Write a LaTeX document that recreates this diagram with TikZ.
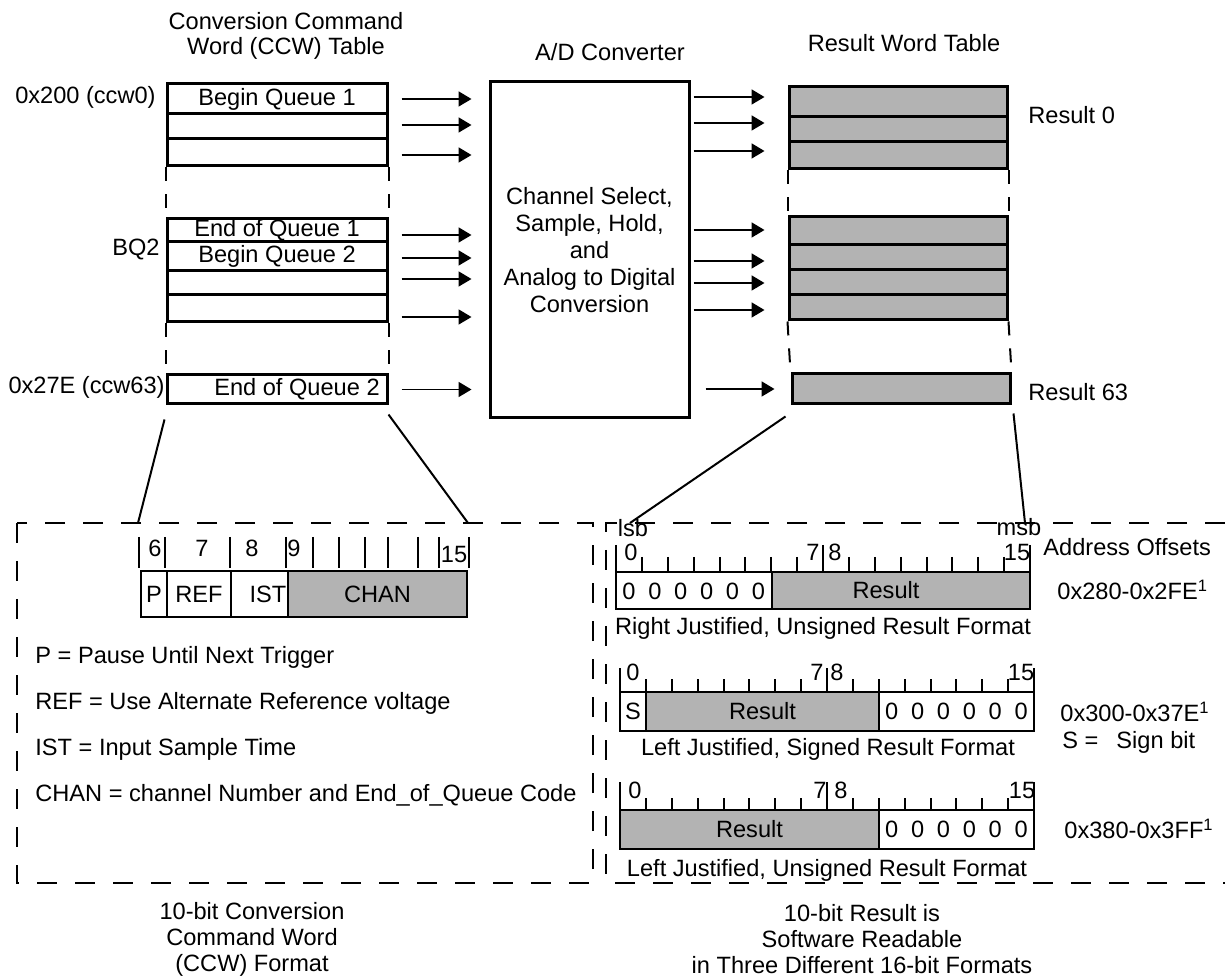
\documentclass[tikz,border=0pt]{standalone}
\usepackage{fontspec}
\setmainfont{Liberation Sans}
\usetikzlibrary{positioning}
\usetikzlibrary{calc}
\usetikzlibrary{arrows.meta}
\definecolor{cellgray}{RGB}{179,179,179}

\tikzset{
  wordrow/.style={draw, line width=1.5pt, minimum width=110pt, inner sep=0pt},
  resrow/.style={wordrow, fill=cellgray, minimum width=109pt},
  feed/.style={line width=0.9pt, -{Triangle[length=6.5pt,width=7.5pt]}},
  gap/.style={line width=1pt, dash pattern=on 7pt off 6.5pt},
  frame/.style={line width=1.2pt, dash pattern=on 10pt off 9pt},
  field/.style={draw, line width=1pt, inner sep=0pt, outer sep=0pt},
  txt/.style={inner sep=0pt},
  tick/.style={line width=1pt},
}

\begin{document}
\begin{tikzpicture}[x=0.5pt, y=-0.5pt, font=\fontsize{11.8}{12.8}\selectfont]
    \useasboundingbox (0,0) rectangle (1225,977);

    % titles
    \node[txt, align=center] (ccwtitle) at (286,36) {Conversion Command\\Word (CCW) Table};
    \node[txt] (adctitle) at (610,52) {A/D Converter};
    \node[txt] (restitle) at (904,43) {Result Word Table};

    % converter
    \node[draw, line width=1.5pt, minimum width=99.5pt, minimum height=168pt, align=center,
          font=\fontsize{11.8}{13.4}\selectfont] (adc) at (589.5,250)
          {Channel Select,\\Sample, Hold,\\and\\Analog to Digital\\Conversion};

    % CCW table
    \foreach \n/\y/\h/\lbl in {c1/99/15pt/Begin Queue 1, c2/126.5/12.5pt/, c3/152.5/13.5pt/,
                               c4/230.5/11.5pt/End of Queue 1, c5/256.5/14.5pt/Begin Queue 2,
                               c6/283/12pt/, c7/308.5/13.5pt/, c8/389.5/14.5pt/\hspace*{20pt}End of Queue 2}
        \node[wordrow, minimum height=\h] (\n) at (277,\y) {\lbl};
    \draw[gap] (c3.south west) -- (c4.north west);
    \draw[gap] (c3.south east) -- (c4.north east);
    \draw[gap] (c7.south west) -- (c8.north west);
    \draw[gap] (c7.south east) -- (c8.north east);

    \node[txt, anchor=east] (ccw0) at (156,97) {0x200 (ccw0)};
    \node[txt, anchor=east] (bq2) at (160,249) {BQ2};
    \node[txt, anchor=east] (ccw63) at (165,387) {0x27E (ccw63)};

    \foreach \n/\dy in {c1/0, c2/-1.5, c3/2.5, c4/4.5, c5/1.5, c6/-4, c7/8.5, c8/0}
        \draw[feed] ($(\n.east)+(13,\dy)$) -- ($(\n.east -| adc.west)+(-17,\dy)$);

    % result table
    \foreach \n/\y/\h in {r1/102/15pt, r2/129.5/12.5pt, r3/155.5/13.5pt, r4/231/14pt,
                          r5/257.5/12.5pt, r6/282.5/12.5pt, r7/307.5/12.5pt}
        \node[resrow, minimum height=\h] (\n) at (898,\y) {};
    \node[resrow, minimum height=15pt] (r8) at (901,389) {};
    \draw[gap] (r3.south west) -- (r4.north west);
    \draw[gap] (r3.south east) -- (r4.north east);
    \draw[gap] (r7.south west) -- (r8.north west);
    \draw[gap] (r7.south east) -- (r8.north east);

    \node[txt, anchor=west] (res0) at (1028,115) {Result 0};
    \node[txt, anchor=west] (res63) at (1028,392) {Result 63};

    \foreach \n/\dy in {r1/-5, r2/-6.5, r3/-4.5, r4/-1, r5/3.5, r6/0.5, r7/2.5}
        \draw[feed] ($(\n.west -| adc.east)+(3,\dy)$) -- ($(\n.west)+(-23,\dy)$);
    \draw[feed] ($(r8.west -| adc.east)+(15,0)$) -- ($(r8.west)+(-16,0)$);

    % format frames
    \draw[frame] (17,523) rectangle (593,883);
    \draw[frame] (1225,523) -- (606,523) -- (606,883) -- (1225,883);

    % CCW format
    \coordinate (ccwlo) at (138,523);
    \coordinate (ccwhi) at (468,523);
    \draw[line width=1pt] ($(c8.south west)+(-1,14)$) -- (ccwlo);
    \draw[line width=1pt] ($(c8.south east)+(0,9)$) -- (ccwhi);

    \foreach \x in {139,165,230,286,313,339,365,388,418,439,469}
        \draw[tick] (\x,537) -- (\x,568);
    \node[txt] (b6) at (155,548) {6};
    \node[txt] (b7) at (202,548) {7};
    \node[txt] (b8) at (252,548) {8};
    \node[txt] (b9) at (294,548) {9};
    \node[txt] (b15) at (454,554) {15};

    \node[field, minimum width=13pt, minimum height=23pt, anchor=north west] (fp) at (141,571) {P};
    \node[field, minimum width=32pt, minimum height=23pt, right=0pt of fp] (fref) {REF};
    \node[field, minimum width=28.5pt, minimum height=23pt, right=0pt of fref] (fist) {\hspace*{8.5pt}IST};
    \node[field, fill=cellgray, minimum width=89.5pt, minimum height=23pt, right=0pt of fist] (fchan) {CHAN};

    \node[txt, anchor=west] (lgp) at (35,657) {P = Pause Until Next Trigger};
    \node[txt, anchor=west] (lgref) at (35,703) {REF = Use Alternate Reference voltage};
    \node[txt, anchor=west] (lgist) at (35,749) {IST = Input Sample Time};
    \node[txt, anchor=west] (lgchan) at (35,795) {CHAN = channel Number and End\_of\_Queue Code};

    \node[txt, align=center, font=\fontsize{11.8}{13}\selectfont] (ccwcap) at (252,939)
        {10-bit Conversion\\Command Word\\(CCW) Format};

    % result formats
    \coordinate (lsbpt) at (630,523);
    \coordinate (msbpt) at (1025,523);
    \draw[line width=1pt] ($(r8.south west)+(-5,11)$) -- (lsbpt);
    \draw[line width=1pt] ($(r8.south east)+(2,8)$) -- (msbpt);
    \node[txt] (lsb) at (633,528) {lsb};
    \node[txt] (msb) at (1019,527) {msb};

    % right justified, unsigned
    \foreach \k in {1,...,7,9,10,...,15}
        \draw[tick] ({616+25.875*\k},557) -- ({616+25.875*\k},572);
    \foreach \k in {0,8,16}
        \draw[tick] ({616+25.875*\k},545) -- ({616+25.875*\k},572);
    \node[txt] (ra0) at (631,552) {0};
    \node[txt] (ra7) at (813,552) {7};
    \node[txt] (ra8) at (835,552) {8};
    \node[txt] (ra15) at (1017,552) {15};
    \node[field, minimum width=78pt, minimum height=18.5pt, anchor=north west] (rz) at (616,572) {};
    \node[field, fill=cellgray, minimum width=129pt, minimum height=18.5pt, right=0pt of rz] (rres)
        {Result\hspace*{15pt}};
    \foreach \k in {0,...,5}
        \node[txt] (rz\k) at ({616+25.875*(\k+0.5)},591) {0};
    \node[txt] (rjcap) at (823,628) {Right Justified, Unsigned Result Format};

    % left justified, signed
    \foreach \k in {1,...,7,9,10,...,15}
        \draw[tick] ({620+25.875*\k},679) -- ({620+25.875*\k},692);
    \foreach \k in {0,8,16}
        \draw[tick] ({620+25.875*\k},668) -- ({620+25.875*\k},692);
    \node[txt] (sa0) at (633,672) {0};
    \node[txt] (sa7) at (817,672) {7};
    \node[txt] (sa8) at (837,672) {8};
    \node[txt] (sa15) at (1021,672) {15};
    \node[field, minimum width=13pt, minimum height=19.5pt, anchor=north west] (ss) at (620,692) {S};
    \node[field, fill=cellgray, minimum width=116.5pt, minimum height=19.5pt, right=0pt of ss] (sres) {Result};
    \node[field, minimum width=77.5pt, minimum height=19.5pt, right=0pt of sres] (sz) {};
    \foreach \k in {10,...,15}
        \node[txt] (sz\k) at ({620+25.875*(\k+0.5)},711) {0};
    \node[txt] (sjcap) at (828,749) {Left Justified, Signed Result Format};

    % left justified, unsigned
    \foreach \k in {1,...,7,9,10,...,15}
        \draw[tick] ({620+25.875*\k},798) -- ({620+25.875*\k},810);
    \foreach \k in {0,8,16}
        \draw[tick] ({620+25.875*\k},782) -- ({620+25.875*\k},810);
    \node[txt] (ua0) at (635,790) {0};
    \node[txt] (ua7) at (820,790) {7};
    \node[txt] (ua8) at (841,790) {8};
    \node[txt] (ua15) at (1022,790) {15};
    \node[field, fill=cellgray, minimum width=129.5pt, minimum height=19.5pt, anchor=north west] (ures) at (620,810) {Result};
    \node[field, minimum width=77.5pt, minimum height=19.5pt, right=0pt of ures] (uz) {};
    \foreach \k in {10,...,15}
        \node[txt] (uz\k) at ({620+25.875*(\k+0.5)},829) {0};
    \node[txt] (ujcap) at (827,870) {Left Justified, Unsigned Result Format};

    % address offsets
    \node[txt, anchor=west] (addr) at (1043,547) {Address Offsets};
    \node[txt, anchor=west] (off1) at (1057,590) {0x280-0x2FE\textsuperscript{1}};
    \node[txt, anchor=west] (off2) at (1060,712) {0x300-0x37E\textsuperscript{1}};
    \node[txt, anchor=west] (sbit) at (1062,742) {S =\hspace{9pt}Sign bit};
    \node[txt, anchor=west] (off3) at (1064,829) {0x380-0x3FF\textsuperscript{1}};

    \node[txt, align=center, font=\fontsize{11.8}{13}\selectfont] (rescap) at (862,939)
        {10-bit Result is\\Software Readable\\in Three Different 16-bit Formats};
\end{tikzpicture}
\end{document}
